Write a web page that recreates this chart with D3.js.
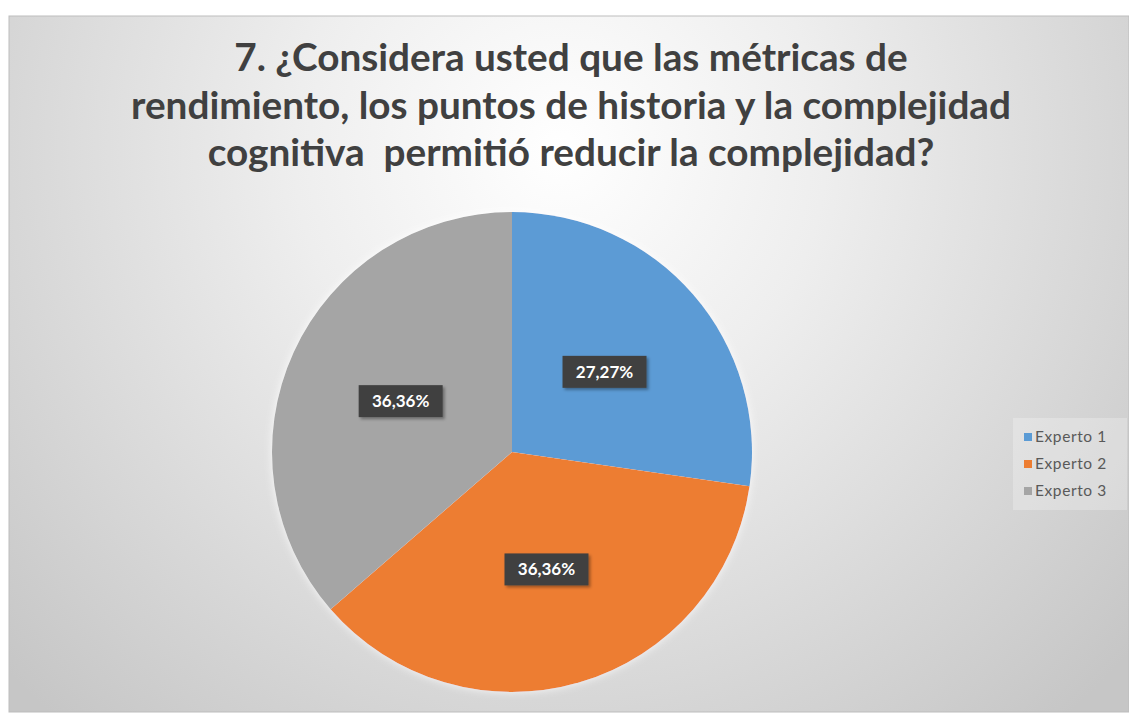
<!DOCTYPE html>
<html>
<head>
<meta charset="utf-8">
<script src="https://cdn.jsdelivr.net/npm/d3@7"></script>
<style>
  body { margin: 0; background: #fff; }
  svg { display: block; }
</style>
</head>
<body>
<script>
// chart data
const categories = ["Experto 1", "Experto 2", "Experto 3"];
const values = [27.27, 36.36, 36.36];
const labels = ["27,27%", "36,36%", "36,36%"];
const colors = ["#5b9bd5", "#ed7d31", "#a5a5a5"];
const titleLines = [
  "7. ¿Considera usted que las métricas de",
  "rendimiento, los puntos de historia y la complejidad",
  "cognitiva  permitió reducir la complejidad?"
];

let width = 1129;
let height = 713;

let svg = d3.select("body").append("svg")
  .attr("width", width)
  .attr("height", height);

let defs = svg.append("defs");

let bg = defs.append("radialGradient")
  .attr("id", "bg")
  .attr("gradientUnits", "userSpaceOnUse")
  .attr("cx", 560).attr("cy", 150).attr("r", 760);
bg.append("stop").attr("offset", "0%").attr("stop-color", "#ffffff");
bg.append("stop").attr("offset", "35%").attr("stop-color", "#eeeeee");
bg.append("stop").attr("offset", "100%").attr("stop-color", "#c6c6c6");

let shadow = defs.append("filter").attr("id", "shadow")
  .attr("x", "-20%").attr("y", "-20%").attr("width", "150%").attr("height", "160%");
shadow.append("feDropShadow")
  .attr("dx", 2).attr("dy", 2).attr("stdDeviation", 1.5)
  .attr("flood-color", "#000").attr("flood-opacity", 0.35);

let glow = defs.append("filter").attr("id", "glow")
  .attr("x", "-10%").attr("y", "-10%").attr("width", "120%").attr("height", "120%");
glow.append("feGaussianBlur").attr("in", "SourceAlpha").attr("stdDeviation", 4).attr("result", "b");
glow.append("feFlood").attr("flood-color", "#ffffff").attr("flood-opacity", 0.8);
glow.append("feComposite").attr("in2", "b").attr("operator", "in").attr("result", "g");
let gm = glow.append("feMerge");
gm.append("feMergeNode").attr("in", "g");
gm.append("feMergeNode").attr("in", "SourceGraphic");

// chart area
svg.append("rect")
  .attr("x", 9).attr("y", 16)
  .attr("width", width - 9).attr("height", height - 17)
  .attr("fill", "url(#bg)")
  .attr("stroke", "#bdbdbd")
  .attr("stroke-width", 1);

// title
let title = svg.append("g")
  .attr("font-family", "Lato, 'Open Sans', sans-serif")
  .attr("font-weight", "bold")
  .attr("fill", "#404040")
  .attr("text-anchor", "middle");

let tLines = title.selectAll("text")
  .data(titleLines)
  .join("text")
  .attr("x", 571)
  .attr("y", (d, i) => 71 + i * 47.5)
  .attr("font-size", 33)
  .style("white-space", "pre")
  .text(d => d);

// fit the longest line to the reference width
let longest = tLines.nodes()[1].getComputedTextLength();
let fs = 33 * 880 / longest;
tLines.attr("font-size", fs);

// pie
let cx = 512, cy = 452, r = 240;
let pie = d3.pie().sort(null).value(d => d);
let arcs = pie(values);
let arc = d3.arc().innerRadius(0).outerRadius(r);
let labelArc = d3.arc().innerRadius(r * 0.51).outerRadius(r * 0.51);

let g = svg.append("g")
  .attr("transform", `translate(${cx},${cy})`);

g.append("g")
  .attr("filter", "url(#glow)")
  .selectAll("path")
  .data(arcs)
  .join("path")
  .attr("d", arc)
  .attr("fill", (d, i) => colors[i]);

// data labels
let lab = g.selectAll("g.lab")
  .data(arcs)
  .join("g")
  .attr("class", "lab")
  .attr("transform", d => `translate(${labelArc.centroid(d)})`);

lab.append("rect")
  .attr("x", -42).attr("y", -16)
  .attr("width", 84).attr("height", 32)
  .attr("fill", "#404040")
  .attr("filter", "url(#shadow)");

lab.append("text")
  .attr("text-anchor", "middle")
  .attr("dy", "0.35em")
  .attr("font-family", "Lato, 'Open Sans', sans-serif")
  .attr("font-weight", "bold")
  .attr("font-size", 17)
  .attr("fill", "#ffffff")
  .text((d, i) => labels[i]);

// legend
let legend = svg.append("g");
legend.append("rect")
  .attr("x", 1013).attr("y", 418)
  .attr("width", 114).attr("height", 92)
  .attr("fill", "#ffffff")
  .attr("fill-opacity", 0.25);

let item = legend.selectAll("g.item")
  .data(categories)
  .join("g")
  .attr("class", "item")
  .attr("transform", (d, i) => `translate(1024,${437 + i * 27})`);

item.append("rect")
  .attr("x", 0).attr("y", -4)
  .attr("width", 8).attr("height", 8)
  .attr("fill", (d, i) => colors[i]);

item.append("text")
  .attr("x", 11)
  .attr("dy", "0.35em")
  .attr("font-family", "Lato, 'Open Sans', sans-serif")
  .attr("font-size", 15.5)
  .attr("letter-spacing", 0.6)
  .attr("fill", "#595959")
  .text(d => d);
</script>
</body>
</html>
